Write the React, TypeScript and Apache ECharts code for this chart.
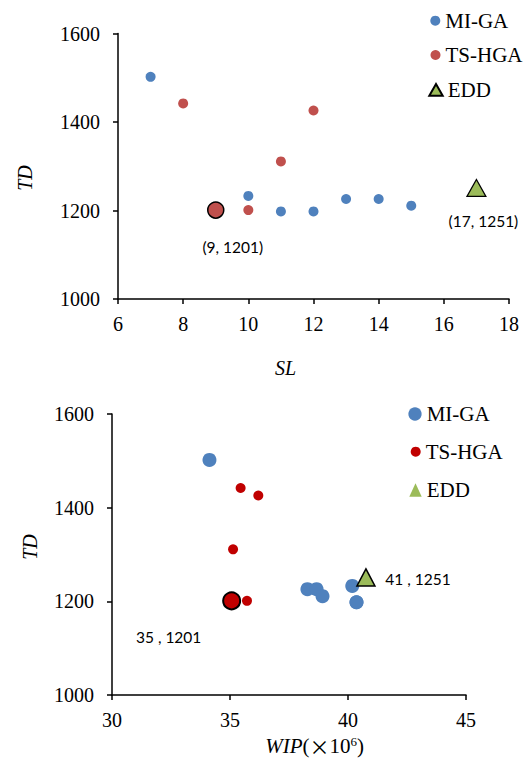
import React, { useEffect, useRef } from "react";
import * as echarts from "echarts";

// Top chart: TD vs SL
const topMiGaSL = [7, 10, 11, 12, 13, 14, 15];
const topMiGaTD = [1502, 1233, 1198, 1198, 1226, 1226, 1211];
const topTsHgaSL = [8, 12, 11, 10, 9];
const topTsHgaTD = [1442, 1426, 1311, 1201, 1201];
const topEddSL = [17];
const topEddTD = [1251];

// Bottom chart: TD vs WIP (x10^6)
const botMiGaWIP = [34.13, 40.18, 40.36, 40.36, 38.28, 38.67, 38.92];
const botMiGaTD = [1502, 1233, 1198, 1198, 1226, 1226, 1211];
const botTsHgaWIP = [35.45, 36.2, 35.13, 35.72, 35.07];
const botTsHgaTD = [1442, 1426, 1311, 1201, 1201];
const botEddWIP = [40.76];
const botEddTD = [1251];

const topXTicks = { min: 6, max: 18, interval: 2 };
const botXTicks = { min: 30, max: 45, interval: 5 };
const yTicks = { min: 1000, max: 1600, interval: 200 };

const BLUE = "#4F81BD";
const RED_TOP = "#C0504D";
const RED_BOT = "#C00000";
const GREEN = "#9BBB59";
const SERIF = "'Liberation Serif', 'Times New Roman', serif";
const SANS = "Lato, 'Open Sans', sans-serif";

const zip = (xs: number[], ys: number[]) => xs.map((x, i) => [x, ys[i]]);

export default function App() {
  const ref = useRef<HTMLDivElement>(null);
  useEffect(() => {
    if (!ref.current) return;
    const chart = echarts.init(ref.current, undefined, { renderer: "svg" });

    const axisCommon = {
      type: "value",
      axisLine: { show: true, onZero: false, lineStyle: { color: "#000", width: 1.5 } },
      axisTick: { show: true, inside: false, length: 5, lineStyle: { color: "#000", width: 1.5 } },
      splitLine: { show: false },
    };
    const plain = (v: number) => String(v);
    const xLabel = { color: "#000", fontFamily: SERIF, fontSize: 20, margin: 15, formatter: plain };
    const yLabel = { color: "#000", fontFamily: SERIF, fontSize: 20, margin: 18, formatter: plain };

    const fmt = (p: any) => p.split(":")[1];
    const legendText = { fontFamily: SERIF, fontSize: 21, color: "#000" };
    const mkLegend = (name: string, icon: string, cx: number, cy: number, w: number, h: number, itemStyle?: any) => ({
      data: [{ name, icon, itemStyle }],
      left: cx - w / 2,
      top: cy - 10.5,
      itemWidth: w,
      itemHeight: h,
      padding: 0,
      selectedMode: false,
      formatter: fmt,
      textStyle: legendText,
    });

    const topTs = zip(topTsHgaSL, topTsHgaTD);
    const botTs = zip(botTsHgaWIP, botTsHgaTD);
    const lastTop = topTs.length - 1;
    const lastBot = botTs.length - 1;
    const titleStyle = { fontFamily: SERIF, fontStyle: "italic", fontSize: 20, fill: "#000", align: "center", verticalAlign: "middle" };

    const option: any = {
      animation: false,
      grid: [
        { left: 118, top: 33.5, width: 391, height: 265.5 },
        { left: 112, top: 414, width: 354, height: 281 },
      ],
      xAxis: [
        { ...axisCommon, gridIndex: 0, ...topXTicks, axisLabel: xLabel },
        { ...axisCommon, gridIndex: 1, ...botXTicks, axisLabel: xLabel },
      ],
      yAxis: [
        { ...axisCommon, gridIndex: 0, ...yTicks, axisLabel: yLabel },
        { ...axisCommon, gridIndex: 1, ...yTicks, axisLabel: yLabel },
      ],
      legend: [
        mkLegend("t:MI-GA", "circle", 435.3, 20.7, 10, 10),
        mkLegend("t:TS-HGA", "circle", 435.5, 55, 10, 10),
        mkLegend("t:EDD", "triangle", 435, 89.8, 13.4, 11.7),
        mkLegend("b:MI-GA", "circle", 415, 414, 13.3, 13.3),
        mkLegend("b:TS-HGA", "circle", 415.7, 451.7, 10, 10),
        mkLegend("b:EDD", "triangle", 415.5, 490, 12.4, 13.7, { borderWidth: 0 }),
      ],
      graphic: [
        { type: "text", x: 25.3, y: 178, rotation: Math.PI / 2, style: { text: "TD", ...titleStyle } },
        { type: "text", x: 285.5, y: 368, style: { text: "SL", ...titleStyle } },
        { type: "text", x: 30.4, y: 547, rotation: Math.PI / 2, style: { text: "TD", ...titleStyle } },
        {
          type: "text",
          x: 314.7,
          y: 746,
          style: {
            text: "{i|WIP}{n|(}{x|×}{n|10}{s|6}{n|)}",
            align: "center",
            verticalAlign: "middle",
            rich: {
              i: { fontFamily: SERIF, fontStyle: "italic", fontSize: 21, fill: "#000" },
              n: { fontFamily: SERIF, fontSize: 21, fill: "#000" },
              x: { fontFamily: "'Noto Sans CJK SC'", fontSize: 20, fill: "#000" },
              s: { fontFamily: SERIF, fontSize: 13, fill: "#000", verticalAlign: "top", padding: [0, 0, 9, 0] },
            },
          },
        },
      ],
      series: [
        {
          name: "t:MI-GA",
          type: "scatter",
          xAxisIndex: 0,
          yAxisIndex: 0,
          symbol: "circle",
          symbolSize: 10,
          itemStyle: { color: BLUE, opacity: 1 },
          emphasis: { disabled: true },
          data: zip(topMiGaSL, topMiGaTD),
        },
        {
          name: "t:TS-HGA",
          type: "scatter",
          xAxisIndex: 0,
          yAxisIndex: 0,
          symbol: "circle",
          symbolSize: 10,
          itemStyle: { color: RED_TOP, opacity: 1 },
          emphasis: { disabled: true },
          data: topTs.map((d, i) =>
            i === lastTop
              ? {
                  value: d,
                  symbolSize: 16,
                  itemStyle: { borderColor: "#000", borderWidth: 1.5 },
                  label: { show: true, position: "inside", offset: [17, 37], formatter: `(${d[0]}, ${d[1]})`, color: "#000", fontFamily: SANS, fontSize: 15.5 },
                }
              : d
          ),
        },
        {
          name: "t:EDD",
          type: "scatter",
          xAxisIndex: 0,
          yAxisIndex: 0,
          symbol: "triangle",
          symbolSize: [19, 17],
          itemStyle: { color: GREEN, borderColor: "#000", borderWidth: 1.2, opacity: 1 },
          emphasis: { disabled: true },
          label: { show: true, position: "inside", offset: [7, 33], formatter: (p: any) => `(${p.value[0]}, ${p.value[1]})`, color: "#000", fontFamily: SANS, fontSize: 15.5 },
          data: zip(topEddSL, topEddTD),
        },
        {
          name: "b:MI-GA",
          type: "scatter",
          xAxisIndex: 1,
          yAxisIndex: 1,
          symbol: "circle",
          symbolSize: 14,
          itemStyle: { color: BLUE, opacity: 1 },
          emphasis: { disabled: true },
          data: zip(botMiGaWIP, botMiGaTD),
        },
        {
          name: "b:TS-HGA",
          type: "scatter",
          xAxisIndex: 1,
          yAxisIndex: 1,
          symbol: "circle",
          symbolSize: 10,
          itemStyle: { color: RED_BOT, opacity: 1 },
          emphasis: { disabled: true },
          data: botTs.map((d, i) =>
            i === lastBot
              ? {
                  value: d,
                  symbolSize: 17,
                  itemStyle: { borderColor: "#000", borderWidth: 2 },
                  label: { show: true, position: "inside", offset: [-63, 36.5], formatter: `${Math.round(d[0])} , ${d[1]}`, color: "#000", fontFamily: SANS, fontSize: 15.5 },
                }
              : d
          ),
        },
        {
          name: "b:EDD",
          type: "scatter",
          xAxisIndex: 1,
          yAxisIndex: 1,
          symbol: "triangle",
          symbolSize: [18, 17],
          itemStyle: { color: GREEN, borderColor: "#000", borderWidth: 1.5, opacity: 1 },
          emphasis: { disabled: true },
          label: { show: true, position: "inside", offset: [52, 1.5], formatter: (p: any) => `${Math.round(p.value[0])} , ${p.value[1]}`, color: "#000", fontFamily: SANS, fontSize: 15.5 },
          data: zip(botEddWIP, botEddTD),
        },
      ],
    };
    chart.setOption(option);
    return () => chart.dispose();
  }, []);
  return <div ref={ref} style={{ position: "absolute", left: 0, top: 0, width: 529, height: 761, background: "#fff" }} />;
}
